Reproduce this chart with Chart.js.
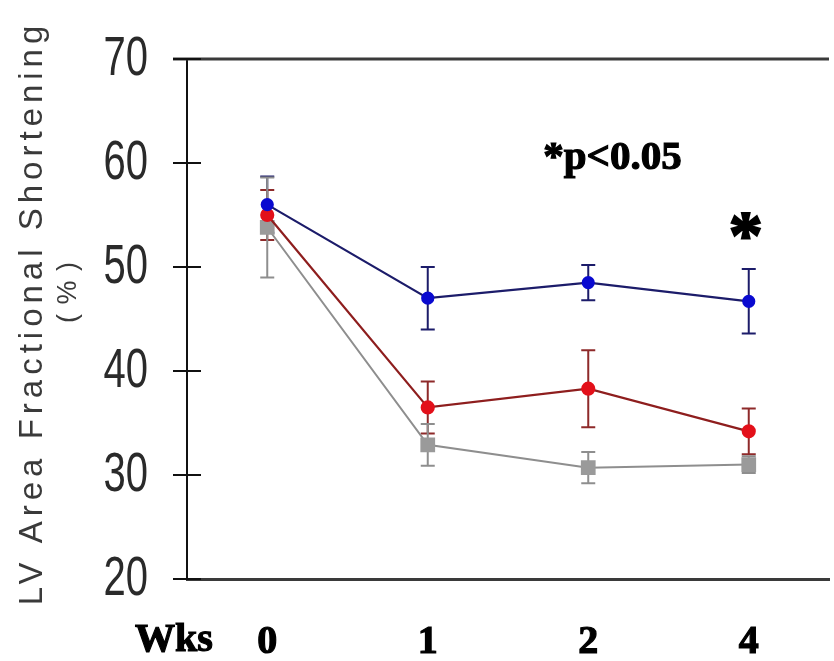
<!DOCTYPE html>
<html>
<head>
<meta charset="utf-8">
<script src="https://cdn.jsdelivr.net/npm/chart.js@4.4.1/dist/chart.umd.min.js"></script>
<style>
html,body{margin:0;padding:0;background:#fff;overflow:hidden;}
#wrap{width:834px;height:661px;overflow:hidden;position:relative;}
canvas{display:block;}
</style>
</head>
<body>
<div id="wrap"><canvas id="c" width="840" height="661"></canvas></div>
<script>
// ---- data ----
const weeks = ['0', '1', '2', '4'];
const blueMean = [56.0, 47.0, 48.5, 46.7];
const blueErr  = [2.7, 3.0, 1.7, 3.1];
const redMean  = [55.0, 36.5, 38.3, 34.2];
const redErr   = [2.4, 2.5, 3.7, 2.2];
const grayMean = [53.8, 32.9, 30.7, 31.0];
const grayErr  = [4.8, 2.0, 1.5, 0.8];
const yTicks   = [20, 30, 40, 50, 60, 70];
const yTitle   = 'LV Area Fractional Shortening';
const yTitle2  = '( % )';
const xPrefix  = 'Wks';
const sigNote  = '*p<0.05';
const sigStar  = '*';

const errSets = [
  {mean: blueMean, err: blueErr, color: '#1c1c6a'},
  {mean: redMean,  err: redErr,  color: '#8e2a2a'},
  {mean: grayMean, err: grayErr, color: '#8e8e8e'}
];

const decor = {
  id: 'decor',
  beforeDatasetsDraw(chart) {
    const {ctx, scales: {x, y}} = chart;
    ctx.save();
    ctx.lineWidth = 2;
    errSets.forEach(s => {
      ctx.strokeStyle = s.color;
      s.mean.forEach((m, i) => {
        const px = x.getPixelForValue(i);
        const top = y.getPixelForValue(m + s.err[i]);
        const bot = y.getPixelForValue(m - s.err[i]);
        ctx.beginPath();
        ctx.moveTo(px, top); ctx.lineTo(px, bot);
        ctx.moveTo(px - 7, top); ctx.lineTo(px + 7, top);
        ctx.moveTo(px - 7, bot); ctx.lineTo(px + 7, bot);
        ctx.stroke();
      });
    });
    ctx.restore();
  },
  afterDraw(chart) {
    const {ctx, chartArea: ca, scales: {x, y}} = chart;
    ctx.save();
    // top frame line
    ctx.strokeStyle = '#3a3a3a';
    ctx.lineWidth = 3;
    ctx.beginPath();
    ctx.moveTo(ca.left - 14, ca.top);
    ctx.lineTo(ca.right, ca.top);
    ctx.stroke();
    // y ticks crossing the axis + tall narrow tick labels
    ctx.strokeStyle = '#111';
    ctx.lineWidth = 2;
    ctx.fillStyle = '#2a2a2a';
    ctx.font = '40px "Liberation Sans", Arial, sans-serif';
    ctx.textAlign = 'right';
    ctx.textBaseline = 'middle';
    y.ticks.forEach(t => {
      const py = y.getPixelForValue(t.value);
      ctx.beginPath();
      ctx.moveTo(ca.left - 14, py);
      ctx.lineTo(ca.left + 14, py);
      ctx.stroke();
      ctx.save();
      ctx.translate(148, py + 1);
      ctx.scale(1, 1.38);
      ctx.fillText(String(t.value), 0, 0);
      ctx.restore();
    });
    // y title
    ctx.fillStyle = '#3a3a3a';
    ctx.font = '33px "Liberation Sans", Arial, sans-serif';
    ctx.textAlign = 'center';
    ctx.textBaseline = 'alphabetic';
    try { ctx.letterSpacing = '5px'; } catch (e) {}
    ctx.save();
    ctx.translate(42, 313);
    ctx.rotate(-Math.PI / 2);
    ctx.fillText(yTitle, 0, 0);
    ctx.restore();
    ctx.font = '27px "Liberation Sans", Arial, sans-serif';
    try { ctx.letterSpacing = '1px'; } catch (e) {}
    ctx.save();
    ctx.translate(76, 292);
    ctx.rotate(-Math.PI / 2);
    ctx.fillText(yTitle2, 0, 0);
    ctx.restore();
    try { ctx.letterSpacing = '0px'; } catch (e) {}
    // "Wks"
    ctx.fillStyle = '#000';
    ctx.strokeStyle = '#000';
    ctx.lineWidth = 1.2;
    ctx.font = 'bold 40px "Liberation Serif", "Times New Roman", serif';
    ctx.textAlign = 'center';
    ctx.textBaseline = 'middle';
    ctx.fillText(xPrefix, 174, 641);
    ctx.strokeText(xPrefix, 174, 641);
    // significance note
    ctx.textAlign = 'left';
    ctx.textBaseline = 'alphabetic';
    ctx.font = 'bold 41px "Liberation Serif", "Times New Roman", serif';
    const nx = x.getPixelForValue(1.72), ny = y.getPixelForValue(59.4);
    ctx.fillText(sigNote, nx, ny);
    ctx.strokeText(sigNote, nx, ny);
    // star above week 4
    const fs = 68;
    ctx.font = 'bold ' + fs + 'px "Liberation Serif", "Times New Roman", serif';
    ctx.textAlign = 'center';
    ctx.lineWidth = 2;
    const sx = x.getPixelForValue(3) - 3, sy = y.getPixelForValue(53.75) + 0.42 * fs;
    ctx.fillText(sigStar, sx, sy);
    ctx.strokeText(sigStar, sx, sy);
    ctx.restore();
  }
};

new Chart(document.getElementById('c'), {
  type: 'line',
  data: {
    labels: weeks,
    datasets: [
      {data: blueMean, borderColor: '#1c1c6a', backgroundColor: '#0a0ad0', pointBorderColor: '#0a0ad0',
       borderWidth: 2.2, pointRadius: 5.5, pointStyle: 'circle', tension: 0},
      {data: redMean, borderColor: '#8e1e1e', backgroundColor: '#e3101a', pointBorderColor: '#e3101a',
       borderWidth: 2.2, pointRadius: 6, pointStyle: 'circle', tension: 0},
      {data: grayMean, borderColor: '#8e8e8e', backgroundColor: '#9a9a9a', pointBorderColor: '#9a9a9a',
       borderWidth: 2, pointRadius: 9, pointStyle: 'rect', tension: 0}
    ]
  },
  options: {
    responsive: false,
    animation: false,
    devicePixelRatio: 1,
    layout: {padding: {top: 59, left: 0, right: 0, bottom: 0}},
    plugins: {legend: {display: false}, tooltip: {enabled: false}},
    scales: {
      x: {
        type: 'category',
        offset: true,
        grid: {display: false, drawTicks: false},
        border: {display: true, color: '#3a3a3a', width: 3},
        ticks: {color: '#000', padding: 40, textStrokeColor: '#000', textStrokeWidth: 1.2,
          font: {family: '"Liberation Serif", "Times New Roman", serif', size: 40, weight: 'bold'}},
        afterFit(s) { s.height = 82; }
      },
      y: {
        min: 20, max: 70,
        afterBuildTicks(s) { s.ticks = yTicks.map(v => ({value: v})); },
        grid: {display: true, drawOnChartArea: false, drawTicks: false},
        border: {display: true, color: '#111', width: 2},
        ticks: {display: false},
        afterFit(s) { s.width = 187; }
      }
    }
  },
  plugins: [decor]
});
</script>
</body>
</html>
